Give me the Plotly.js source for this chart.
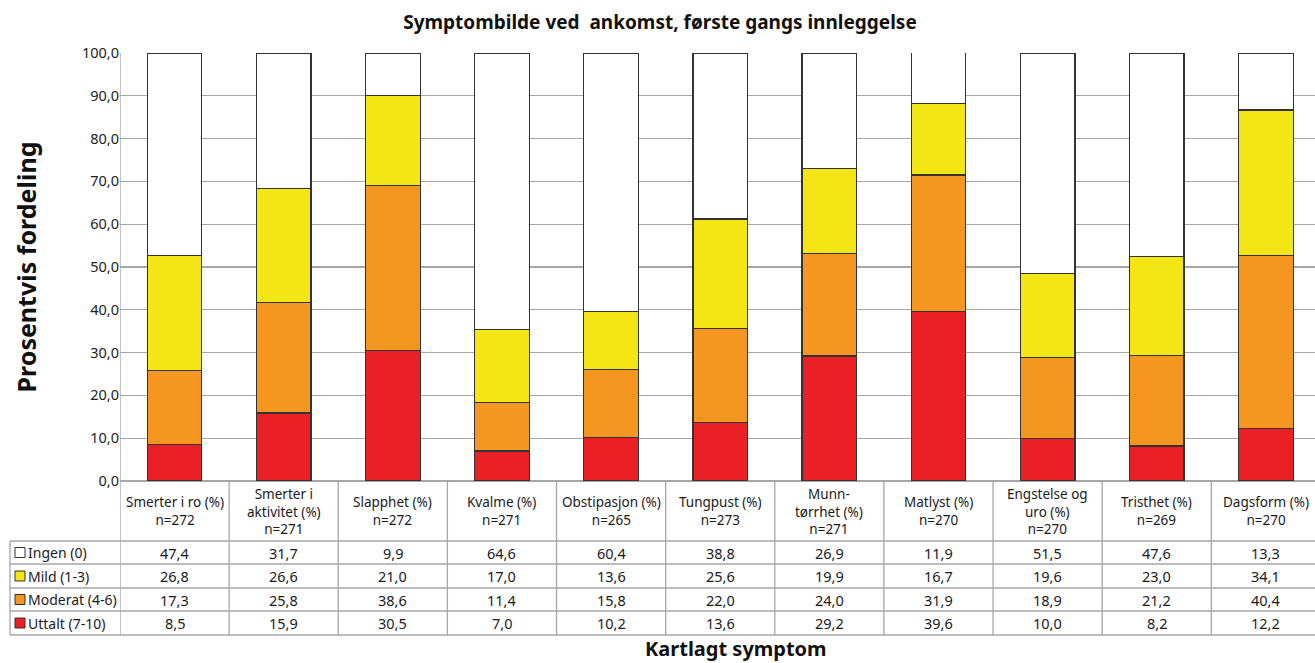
<!DOCTYPE html>
<html>
<head>
<meta charset="utf-8">
<script src="https://cdn.plot.ly/plotly-3.0.1.min.js"></script>
<style>html,body{margin:0;padding:0;background:#fff;}#chart{width:1315px;height:663px;}</style>
</head>
<body>
<div id="chart"></div>
<script>
// ---- Data ----
const categories = [
  "Smerter i ro (%)<br>n=272",
  "Smerter i<br>aktivitet (%)<br>n=271",
  "Slapphet (%)<br>n=272",
  "Kvalme (%)<br>n=271",
  "Obstipasjon (%)<br>n=265",
  "Tungpust (%)<br>n=273",
  "Munn-<br>tørrhet (%)<br>n=271",
  "Matlyst (%)<br>n=270",
  "Engstelse og<br>uro (%)<br>n=270",
  "Tristhet (%)<br>n=269",
  "Dagsform (%)<br>n=270"
];
const ingen   = [47.4, 31.7, 9.9, 64.6, 60.4, 38.8, 26.9, 11.9, 51.5, 47.6, 13.3];
const mild    = [26.8, 26.6, 21.0, 17.0, 13.6, 25.6, 19.9, 16.7, 19.6, 23.0, 34.1];
const moderat = [17.3, 25.8, 38.6, 11.4, 15.8, 22.0, 24.0, 31.9, 18.9, 21.2, 40.4];
const uttalt  = [8.5, 15.9, 30.5, 7.0, 10.2, 13.6, 29.2, 39.6, 10.0, 8.2, 12.2];
const seriesNames = ["Ingen (0)", "Mild (1-3)", "Moderat (4-6)", "Uttalt (7-10)"];
const seriesColors = ["#FFFFFF", "#F4E514", "#F4961F", "#EB2027"];
const yTicks = [0, 10, 20, 30, 40, 50, 60, 70, 80, 90, 100];

// ---- Layout helpers ----
const W = 1315, H = 663;
const plotL = 120, plotR = 1315, plotT = 53, plotB = 481;
const py = p => (plotB - p) / (plotB - plotT);   // pixel y -> paper y
const px = p => (p - plotL) / (plotR - plotL);   // pixel x -> paper x
const FONT = "Noto Sans, Open Sans, sans-serif";
const fmt = v => v.toFixed(1).replace('.', ',');

const x = categories.map((c, i) => i);
const seriesData = [ingen, mild, moderat, uttalt];

const traces = [];
for (let s = 3; s >= 0; s--) {
  traces.push({
    type: 'bar', x: x, y: seriesData[s], name: seriesNames[s],
    width: 0.5,
    marker: {color: seriesColors[s], line: {color: '#333333', width: 1.2}},
    hoverinfo: 'y+name', showlegend: false
  });
}

const shapes = [];
const annotations = [];
const gridCol = '#A6A6A6';
// Table row boundaries
const rowLines = [541, 564, 588, 611, 635];
rowLines.forEach(r => {
  shapes.push({type: 'line', xref: 'paper', yref: 'paper', x0: px(10), x1: 1, y0: py(r), y1: py(r),
    line: {color: gridCol, width: 1.3}});
});
// Left column vertical border
shapes.push({type: 'line', xref: 'paper', yref: 'paper', x0: px(10), x1: px(10), y0: py(541), y1: py(635), line: {color: gridCol, width: 1.3}});
// Category boundary lines in table
for (let i = 0; i <= categories.length; i++) {
  shapes.push({type: 'line', xref: 'x', yref: 'paper', x0: i - 0.5, x1: i - 0.5,
    y0: i === 0 ? py(635) : 0, y1: i === 0 ? 1 : py(635), line: {color: gridCol, width: 1.3}});
}
// Header labels
categories.forEach((c, i) => {
  annotations.push({xref: 'x', yref: 'paper', x: i, y: py(511), text: c, showarrow: false,
    xanchor: 'center', yanchor: 'middle', align: 'center',
    font: {family: FONT, size: 13.5, color: '#1a1a1a'}});
});
// Rows
const rowCenters = [552.5, 576, 599.5, 623];
seriesNames.forEach((n, s) => {
  const yc = py(rowCenters[s]);
  shapes.push({type: 'rect', xref: 'paper', yref: 'paper', x0: px(15), x1: px(25), y0: yc - 5/428, y1: yc + 5/428,
    fillcolor: seriesColors[s], line: {color: '#333333', width: 1}});
  annotations.push({xref: 'paper', yref: 'paper', x: px(26), y: yc, text: n, showarrow: false,
    xanchor: 'left', yanchor: 'middle', font: {family: FONT, size: 14, color: '#1a1a1a'}});
  seriesData[s].forEach((v, i) => {
    annotations.push({xref: 'x', yref: 'paper', x: i, y: yc, text: fmt(v), showarrow: false,
      xanchor: 'center', yanchor: 'middle', font: {family: FONT, size: 14.5, color: '#1a1a1a'}});
  });
});
// x-axis title
annotations.push({xref: 'paper', yref: 'paper', x: px(736), y: py(648), text: '<b>Kartlagt symptom</b>',
  showarrow: false, xanchor: 'center', yanchor: 'middle', font: {family: FONT, size: 20, color: '#111'}});

const layout = {
  width: W, height: H,
  margin: {l: plotL, r: W - plotR, t: plotT, b: H - plotB, pad: 0},
  paper_bgcolor: '#fff', plot_bgcolor: '#fff',
  separators: ',.',
  barmode: 'stack',
  title: {text: '<b>Symptombilde ved  ankomst, første gangs innleggelse</b>', x: 660 / W, xref: 'container', xanchor: 'center',
    y: 1 - 22/H, yanchor: 'middle', font: {family: FONT, size: 19, color: '#111'}},
  xaxis: {range: [-0.5, 10.45], showticklabels: false, showgrid: false, zeroline: false, showline: false, ticks: '', fixedrange: true},
  yaxis: {range: [0, 100], tickvals: yTicks, ticktext: yTicks.map(fmt), showgrid: true, gridcolor: gridCol, gridwidth: 1.3,
    zeroline: true, zerolinecolor: gridCol, zerolinewidth: 1.3, showline: false, ticks: '', ticklen: 0,
    tickfont: {family: FONT, size: 14.5, color: '#222'},
    title: {text: '<b>Prosentvis fordeling</b>', font: {family: FONT, size: 25, color: '#111'}, standoff: 38},
    fixedrange: true},
  shapes: shapes,
  annotations: annotations
};

Plotly.newPlot('chart', traces, layout, {displayModeBar: false, staticPlot: true});
</script>
</body>
</html>
